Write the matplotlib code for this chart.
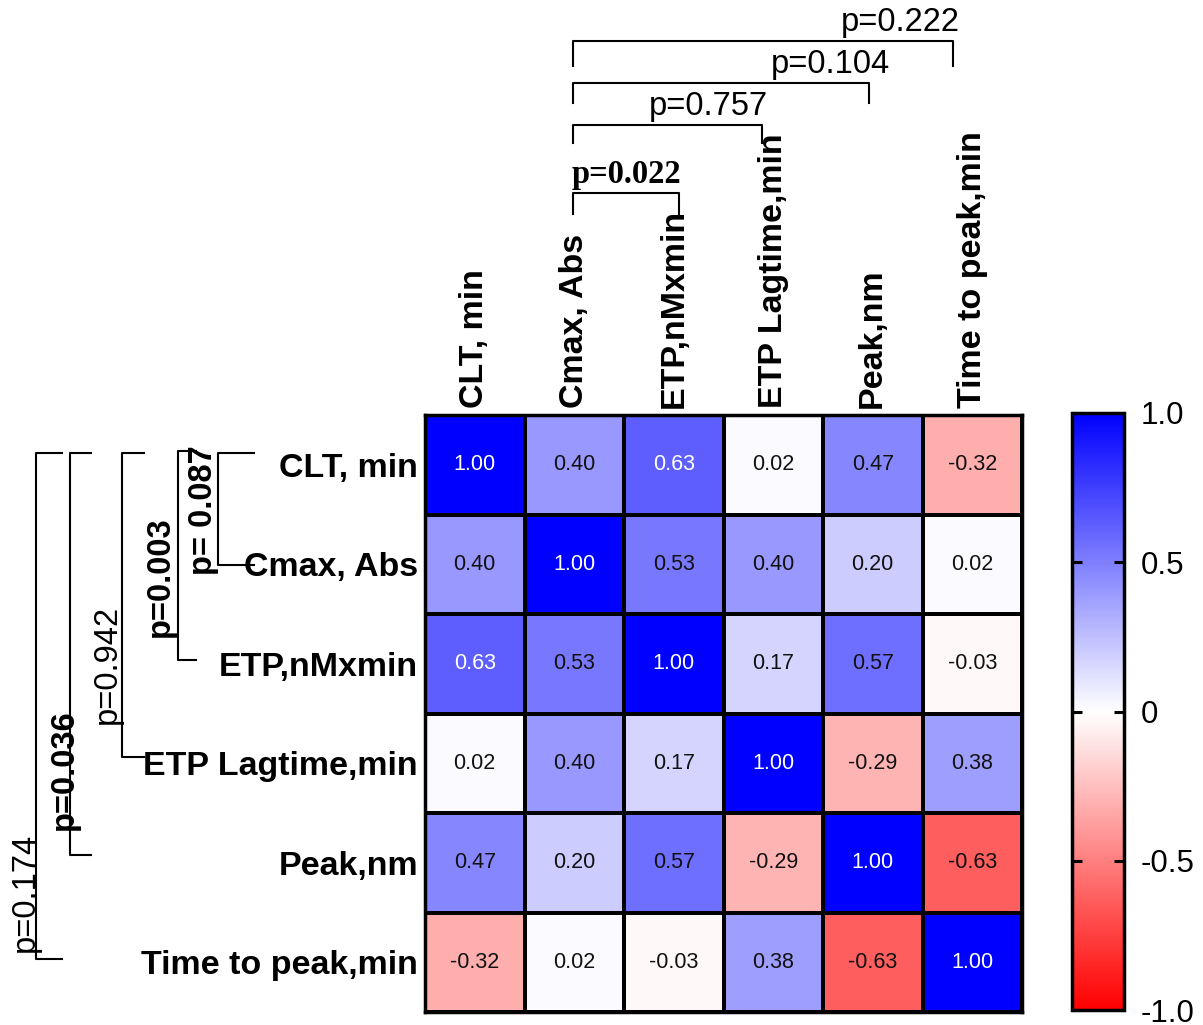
import matplotlib
matplotlib.use("Agg")
import matplotlib.pyplot as plt
import numpy as np

plt.rcParams["font.family"] = ["Liberation Sans", "DejaVu Sans"]

labels = ["CLT, min", "Cmax, Abs", "ETP,nMxmin", "ETP Lagtime,min",
          "Peak,nm", "Time to peak,min"]
corr = np.array([
    [1.00, 0.40, 0.63, 0.02, 0.47, -0.32],
    [0.40, 1.00, 0.53, 0.40, 0.20, 0.02],
    [0.63, 0.53, 1.00, 0.17, 0.57, -0.03],
    [0.02, 0.40, 0.17, 1.00, -0.29, 0.38],
    [0.47, 0.20, 0.57, -0.29, 1.00, -0.63],
    [-0.32, 0.02, -0.03, 0.38, -0.63, 1.00],
])
cbar_ticks = [-1.0, -0.5, 0.0, 0.5, 1.0]
cbar_ticklabels = ["-1.0", "-0.5", "0", "0.5", "1.0"]

# top brackets: (x_left, x_right, line_y, leg_y, text, text_x, bold)
top_p = [
    (1.49, 2.55, -2.23, -2.02, "p=0.022", 2.02, True),
    (1.49, 3.39, -2.91, -2.73, "p=0.757", 2.85, False),
    (1.49, 4.46, -3.34, -3.14, "p=0.104", 4.08, False),
    (1.49, 5.31, -3.76, -3.51, "p=0.222", 4.78, False),
]
# left brackets: (x_line, y_top, y_bot, tick_end, text, text_x, text_y, bold)
left_p = [
    (-2.08, 0.38, 1.51, -1.72, "p= 0.087", -2.23, 0.96, True),
    (-2.48, 0.36, 2.46, -2.30, "p=0.003", -2.66, 1.63, True),
    (-3.05, 0.38, 3.44, -2.82, "p=0.942", -3.19, 2.51, False),
    (-3.57, 0.38, 4.42, -3.36, "p=0.036", -3.62, 3.56, True),
    (-3.91, 0.38, 5.47, -3.65, "p=0.174", -4.02, 4.80, False),
]

W, H = 1203, 1025
fig = plt.figure(figsize=(W / 100, H / 100), dpi=100)
ax = fig.add_axes([425 / W, 1 - 1012 / H, 597 / W, 597 / H])

n = len(labels)
mesh = ax.pcolormesh(np.arange(n + 1), np.arange(n + 1), corr, cmap="bwr_r",
                     vmin=-1, vmax=1, edgecolors="black", linewidth=1.5)
ax.set_xlim(0, n)
ax.set_ylim(n, 0)
for i in range(n):
    for j in range(n):
        v = corr[i, j]
        ax.text(j + 0.5, i + 0.5, f"{v:.2f}", ha="center", va="center",
                fontsize=15.5, color="white" if v > 0.6 else "#111111")

ax.xaxis.tick_top()
ax.set_xticks(np.arange(n) + 0.5)
ax.set_xticklabels(labels, rotation=90, fontsize=24.5, fontweight="bold",
                   va="bottom")
ax.set_yticks(np.arange(n) + 0.5)
ax.set_yticklabels(labels, fontsize=24.5, fontweight="bold")
ax.tick_params(length=0, pad=5)
for s in ax.spines.values():
    s.set_linewidth(2.5)

kw = dict(color="black", lw=1.5, clip_on=False)
for xl, xr, ly, legy, txt, tx, bold in top_p:
    ax.plot([xl, xl, xr, xr], [legy, ly, ly, legy], **kw)
    ax.text(tx, ly - 0.03, txt, ha="center", va="bottom", fontsize=23.5,
            fontweight="bold" if bold else "normal",
            family=["Liberation Serif"] if bold else None)
for xv, yt, yb, te, txt, tx, ty, bold in left_p:
    ax.plot([te, xv, xv, te], [yt, yt, yb, yb], **kw)
    ax.text(tx, ty, txt, rotation=90, ha="center", va="center", fontsize=23.5,
            fontweight="bold" if bold else "normal")

cax = fig.add_axes([1072 / W, 1 - 1010 / H, 52 / W, 597 / H])
cb = fig.colorbar(mesh, cax=cax, ticks=cbar_ticks)
cb.ax.set_yticklabels(cbar_ticklabels)
cb.outline.set_linewidth(2.5)
cb.ax.tick_params(direction="in", left=True, right=True, length=7,
                  width=2.2, labelsize=22.5, pad=12)

fig.savefig("out.png", dpi=100)
